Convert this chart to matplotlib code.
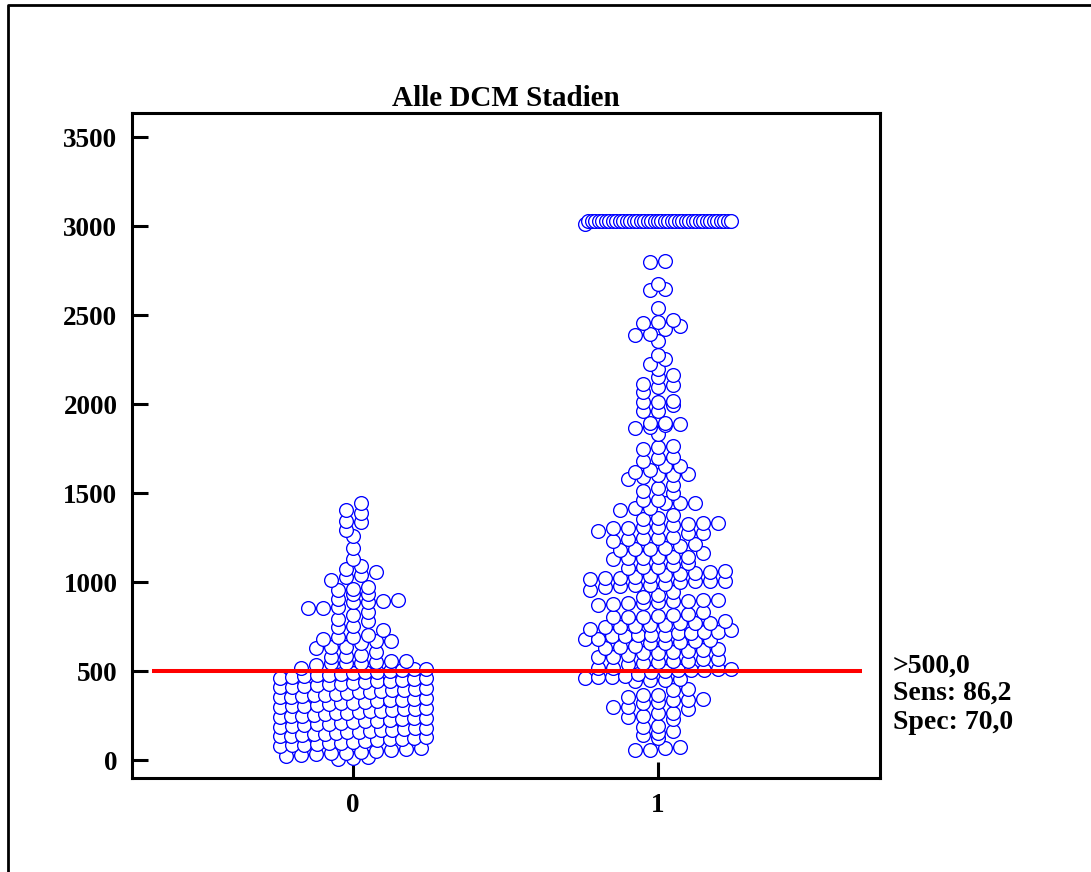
import numpy as np
import matplotlib
matplotlib.use("Agg")
import matplotlib.pyplot as plt
from matplotlib.lines import Line2D

# ---------------- data ----------------
categories = ["0", "1"]
title = "Alle DCM Stadien"
y_ticks = [0, 500, 1000, 1500, 2000, 2500, 3000, 3500]
cutoff = 500
annotation = [">500,0", "Sens: 86,2", "Spec: 70,0"]

g0_low = [5, 12, 17,
          24, 28, 33, 38, 41, 46, 52, 57, 63, 70,
          78, 82, 86, 90, 94, 98, 103, 107, 111, 116, 120, 125, 128,
          133, 136, 140, 144, 148, 151, 155, 159, 163, 167, 171, 174, 178, 182,
          188, 192, 196, 200, 205, 209, 213, 217, 222, 226, 230, 234, 238,
          243, 246, 250, 254, 258, 262, 266, 270, 273, 277, 281, 285, 289, 292,
          298, 302, 306, 311, 315, 319, 323, 327, 332, 336, 340, 344, 348,
          353, 356, 360, 364, 368, 372, 376, 380, 384, 388, 392, 396, 399, 403,
          408, 412, 416, 420, 425, 429, 433, 437, 442, 446, 450, 454, 458,
          463, 467, 471, 476, 480, 484, 488, 492, 496, 499]
g0_high = [1444, 1404, 1387, 1343, 1337, 1292, 1258,
           1191, 1129, 1090, 1073, 1056, 1039, 1028, 1011,
           972, 961, 955, 933, 933, 904, 899, 893, 888, 888,
           860, 854, 854, 831, 815, 792, 781,
           753, 747, 730,
           702, 691, 691, 680, 669, 669, 657,
           635, 635, 629, 607,
           590, 584, 579,
           556, 556, 551, 545, 545, 545, 534,
           517, 511, 511, 506]

g1_capped = [3010, 3030, 3030, 3030, 3030, 3030, 3030, 3030, 3030, 3030, 3030,
             3030, 3030, 3030, 3030, 3030, 3030, 3030, 3030, 3030, 3030,
             3030, 3030, 3030, 3030, 3030, 3030, 3030, 3030, 3030, 3030,
             3030, 3030, 3030, 3030, 3030, 3030, 3030, 3030, 3030, 3030,
             3030, 3030]
g1_high = [2803, 2798, 2674, 2646, 2640, 2539, 2472, 2461, 2455, 2438, 2421, 2393,
           2388, 2354, 2275, 2253, 2225, 2197, 2163, 2152, 2112, 2107, 2096, 2067,
           2017, 2011, 2011, 1994, 1961, 1961, 1893, 1893, 1888, 1882, 1871, 1865,
           1831, 1764, 1758, 1747, 1702, 1697, 1680,
           1652, 1652, 1629, 1618, 1607, 1601, 1601, 1590, 1579, 1545, 1528, 1511,
           1500, 1461, 1461, 1444, 1444, 1444, 1416, 1416, 1404, 1376, 1360, 1354,
           1331, 1331, 1326, 1320, 1309, 1309, 1303, 1303, 1287, 1275, 1275, 1253,
           1247, 1247, 1242, 1230, 1213, 1202, 1191, 1185, 1185, 1180, 1163, 1140,
           1140, 1140, 1135, 1135, 1129, 1107, 1096, 1084, 1084, 1079, 1062, 1056,
           1051, 1045, 1039, 1034, 1028, 1022, 1022, 1017, 1006, 1006, 1006, 1000,
           989, 983, 983, 978, 972, 955, 944, 927, 916, 899, 899, 893, 893, 888,
           882, 882, 876, 871, 831, 820, 815, 809, 803, 803, 803,
           781, 770, 770, 770, 758, 758, 753, 747, 747, 736, 730, 719, 719, 713,
           713, 702, 702, 702, 697, 697, 680, 680, 674, 669, 663, 657, 657, 640,
           635, 629, 624, 618, 612, 607, 601, 601, 590, 579, 579, 567, 567, 556,
           556, 551, 545, 539, 517, 517, 511, 511, 506, 506, 506, 502]
g1_low = [494, 483, 472, 466, 466, 461, 455, 449, 449, 444, 399, 393, 365, 365,
          354, 343, 337, 337, 326, 320, 298, 298, 287, 264, 264, 247, 242, 230,
          191, 185, 163, 152, 140, 124, 73, 67, 56, 56]

groups = [g0_low + g0_high, g1_low + g1_high + g1_capped]

# ---------------- figure ----------------
plt.rcParams['font.family'] = ['Liberation Serif', 'DejaVu Serif']
plt.rcParams['font.weight'] = 'bold'

fig = plt.figure(figsize=(10.91, 8.72), dpi=100)
ax = fig.add_axes([0.121, 0.1078, 0.6856, 0.7626])
ax.set_xlim(-0.7246, 1.7279)
ax.set_ylim(-101, 3635)


def dot_layout(values, pos, diam_px=15.0, half_w_px=73.0, row_h=55.0, row0=20.0):
    """MedCalc-like dot plot: bin values into rows, spread each row centred."""
    p0 = ax.transData.transform((0, 0))
    p1 = ax.transData.transform((1, 0))
    pxu = p1[0] - p0[0]
    v = np.asarray(values, dtype=float)
    rows = np.floor((v - row0) / row_h).astype(int)
    xs = np.empty_like(v)
    for r in np.unique(rows):
        idx = np.where(rows == r)[0]
        idx = idx[np.argsort(v[idx], kind="stable")]
        n = len(idx)
        s = diam_px
        if n > 1 and (n - 1) * s > 2 * half_w_px:
            s = 2 * half_w_px / (n - 1)
        offs = (np.arange(n) - (n - 1) / 2.0) * s
        xs[idx] = pos + offs / pxu
    order = np.lexsort((xs, v))
    return xs[order], v[order]


for i, vals in enumerate(groups):
    xs, ys = dot_layout(vals, i)
    ax.scatter(xs, ys, s=98, facecolors="white", edgecolors="#0000FF",
               linewidths=0.95, zorder=3, clip_on=False)

ax.plot([-0.659, 1.669], [cutoff, cutoff], color="#FF0000", lw=2.9, zorder=5,
        solid_capstyle="butt")

ax.set_xticks([0, 1])
ax.set_xticklabels(categories)
ax.set_yticks(y_ticks)
ax.set_yticklabels([str(t) for t in y_ticks])
for sp in ax.spines.values():
    sp.set_linewidth(2.2)
ax.tick_params(direction="in", length=11.5, width=2.2, pad=10.5,
               labelsize=19.5, top=False, right=False)
for lab in ax.get_xticklabels() + ax.get_yticklabels():
    lab.set_fontweight("bold")

ax.set_title(title, fontsize=21, fontweight="bold", pad=5)

# annotation at the right of the cut-off line
ys_ann = [0.2365, 0.2055, 0.1720]
for txt, yy in zip(annotation, ys_ann):
    fig.text(0.8185, yy, txt, fontsize=20, fontweight="bold", ha="left", va="center")

# outer frame (left and top edges visible)
fx = 7.5 / 1091
fy = 1 - 5.5 / 872
fig.add_artist(Line2D([fx, fx, 1.0], [0.0, fy, fy], transform=fig.transFigure,
                      color="black", lw=2.0))

fig.savefig("out.png", dpi=100)
